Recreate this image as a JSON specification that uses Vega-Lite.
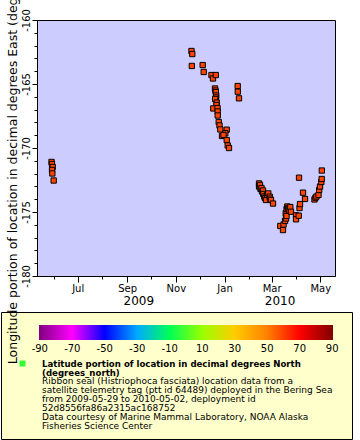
{
  "$schema": "https://vega.github.io/schema/vega-lite/v6.json",
  "width": 298,
  "height": 256,
  "autosize": {"type": "none"},
  "padding": {"left": 37, "top": 20, "right": 25, "bottom": 164},
  "background": "white",
  "config": {
    "font": "DejaVu Sans",
    "view": {"fill": "#ccccff", "stroke": "black", "strokeWidth": 1},
    "axis": {"labelFont": "DejaVu Sans", "titleFont": "DejaVu Sans", "labelColor": "black", "titleColor": "black", "domainColor": "black", "tickColor": "black", "grid": false, "labelFontSize": 10},
    "legend": {"labelFont": "DejaVu Sans", "titleFont": "DejaVu Sans"}
  },
  "title": {
    "text": ["Latitude portion of location in decimal degrees North", "(degrees_north)"],
    "subtitle": ["Ribbon seal (Histriophoca fasciata) location data from a", "satellite telemetry tag (ptt id 64489) deployed in the Bering Sea", "from 2009-05-29 to 2010-05-02, deployment id", "52d8556fa86a2315ac168752", "Data courtesy of Marine Mammal Laboratory, NOAA Alaska", "Fisheries Science Center"],
    "orient": "bottom",
    "anchor": "start",
    "frame": "group",
    "dx": 5,
    "offset": -80,
    "font": "DejaVu Sans",
    "fontSize": 8.6,
    "fontWeight": "bold",
    "lineHeight": 9,
    "color": "black",
    "subtitleFont": "DejaVu Sans",
    "subtitleFontSize": 9,
    "subtitleFontWeight": "normal",
    "subtitleLineHeight": 9,
    "subtitleColor": "black",
    "subtitlePadding": 0,
    "zindex": 1
  },
  "data": {
    "values": [
      {"t": "2009-05-29T05:00:00Z", "lon": -171.09, "lat": 59.2},
      {"t": "2009-05-29T18:00:00Z", "lon": -171.25, "lat": 59.2},
      {"t": "2009-05-30T16:00:00Z", "lon": -171.48, "lat": 59.3},
      {"t": "2009-05-29T20:00:00Z", "lon": -171.72, "lat": 59.3},
      {"t": "2009-05-30T05:00:00Z", "lon": -171.99, "lat": 59.3},
      {"t": "2009-05-31T22:00:00Z", "lon": -172.54, "lat": 59.4},
      {"t": "2009-11-20T14:00:00Z", "lon": -162.42, "lat": 59.5},
      {"t": "2009-11-21T14:00:00Z", "lon": -162.66, "lat": 59.5},
      {"t": "2009-11-21T00:00:00Z", "lon": -163.59, "lat": 59.4},
      {"t": "2009-12-04T15:00:00Z", "lon": -163.52, "lat": 59.4},
      {"t": "2009-12-05T22:00:00Z", "lon": -164.06, "lat": 59.3},
      {"t": "2009-12-15T16:00:00Z", "lon": -164.30, "lat": 59.3},
      {"t": "2009-12-17T13:00:00Z", "lon": -164.57, "lat": 59.3},
      {"t": "2009-12-21T01:00:00Z", "lon": -164.30, "lat": 59.3},
      {"t": "2009-12-20T01:00:00Z", "lon": -165.35, "lat": 59.2},
      {"t": "2009-12-20T15:00:00Z", "lon": -165.51, "lat": 59.2},
      {"t": "2009-12-21T03:00:00Z", "lon": -165.63, "lat": 59.2},
      {"t": "2009-12-21T12:00:00Z", "lon": -165.90, "lat": 59.2},
      {"t": "2009-12-21T07:00:00Z", "lon": -166.05, "lat": 59.2},
      {"t": "2009-12-20T06:00:00Z", "lon": -166.17, "lat": 59.2},
      {"t": "2009-12-22T05:00:00Z", "lon": -166.45, "lat": 59.2},
      {"t": "2009-12-21T23:00:00Z", "lon": -166.64, "lat": 59.2},
      {"t": "2009-12-17T22:00:00Z", "lon": -166.91, "lat": 59.2},
      {"t": "2009-12-23T05:00:00Z", "lon": -166.88, "lat": 59.2},
      {"t": "2009-12-23T10:00:00Z", "lon": -167.15, "lat": 59.1},
      {"t": "2009-12-23T11:00:00Z", "lon": -167.46, "lat": 59.1},
      {"t": "2009-12-24T17:00:00Z", "lon": -167.97, "lat": 59.1},
      {"t": "2009-12-25T17:00:00Z", "lon": -168.24, "lat": 59.1},
      {"t": "2009-12-26T17:00:00Z", "lon": -168.55, "lat": 59.1},
      {"t": "2009-12-28T20:00:00Z", "lon": -169.06, "lat": 59.0},
      {"t": "2010-01-03T17:00:00Z", "lon": -168.57, "lat": 59.0},
      {"t": "2010-01-01T23:00:00Z", "lon": -168.85, "lat": 59.0},
      {"t": "2009-12-30T17:00:00Z", "lon": -168.98, "lat": 59.0},
      {"t": "2010-01-03T18:00:00Z", "lon": -169.38, "lat": 59.0},
      {"t": "2010-01-04T23:00:00Z", "lon": -169.80, "lat": 59.0},
      {"t": "2010-01-06T14:00:00Z", "lon": -170.00, "lat": 59.0},
      {"t": "2010-01-17T12:00:00Z", "lon": -165.16, "lat": 59.3},
      {"t": "2010-01-17T14:00:00Z", "lon": -165.60, "lat": 59.3},
      {"t": "2010-01-19T03:00:00Z", "lon": -166.12, "lat": 59.3},
      {"t": "2010-02-13T05:00:00Z", "lon": -172.77, "lat": 59.1},
      {"t": "2010-02-13T06:00:00Z", "lon": -173.01, "lat": 59.1},
      {"t": "2010-02-14T11:00:00Z", "lon": -172.89, "lat": 59.1},
      {"t": "2010-02-15T02:00:00Z", "lon": -173.20, "lat": 59.1},
      {"t": "2010-02-16T08:00:00Z", "lon": -173.13, "lat": 59.1},
      {"t": "2010-02-16T23:00:00Z", "lon": -173.40, "lat": 59.1},
      {"t": "2010-02-18T05:00:00Z", "lon": -173.32, "lat": 59.1},
      {"t": "2010-02-18T14:00:00Z", "lon": -173.59, "lat": 59.1},
      {"t": "2010-02-19T20:00:00Z", "lon": -173.79, "lat": 59.1},
      {"t": "2010-02-20T17:00:00Z", "lon": -173.91, "lat": 59.1},
      {"t": "2010-02-21T23:00:00Z", "lon": -174.06, "lat": 59.1},
      {"t": "2010-02-23T05:00:00Z", "lon": -173.67, "lat": 59.1},
      {"t": "2010-02-24T20:00:00Z", "lon": -173.55, "lat": 59.1},
      {"t": "2010-02-26T14:00:00Z", "lon": -173.80, "lat": 59.1},
      {"t": "2010-02-26T23:00:00Z", "lon": -173.95, "lat": 59.1},
      {"t": "2010-02-28T05:00:00Z", "lon": -174.06, "lat": 59.1},
      {"t": "2010-03-02T18:00:00Z", "lon": -174.34, "lat": 59.0},
      {"t": "2010-03-11T21:00:00Z", "lon": -176.09, "lat": 59.0},
      {"t": "2010-03-15T06:00:00Z", "lon": -176.41, "lat": 59.0},
      {"t": "2010-03-15T22:00:00Z", "lon": -175.98, "lat": 59.0},
      {"t": "2010-03-17T19:00:00Z", "lon": -175.70, "lat": 59.0},
      {"t": "2010-03-18T16:00:00Z", "lon": -175.10, "lat": 59.0},
      {"t": "2010-03-19T01:00:00Z", "lon": -175.51, "lat": 59.0},
      {"t": "2010-03-19T16:00:00Z", "lon": -175.31, "lat": 59.0},
      {"t": "2010-03-19T18:00:00Z", "lon": -174.77, "lat": 59.0},
      {"t": "2010-03-20T16:00:00Z", "lon": -174.57, "lat": 59.0},
      {"t": "2010-03-21T12:00:00Z", "lon": -174.69, "lat": 59.0},
      {"t": "2010-03-22T04:00:00Z", "lon": -174.80, "lat": 59.0},
      {"t": "2010-03-23T10:00:00Z", "lon": -174.88, "lat": 59.0},
      {"t": "2010-03-24T10:00:00Z", "lon": -174.61, "lat": 59.0},
      {"t": "2010-03-25T07:00:00Z", "lon": -174.98, "lat": 59.0},
      {"t": "2010-03-31T13:00:00Z", "lon": -175.26, "lat": 59.1},
      {"t": "2010-03-31T14:00:00Z", "lon": -175.57, "lat": 59.1},
      {"t": "2010-04-03T23:00:00Z", "lon": -175.29, "lat": 59.1},
      {"t": "2010-04-04T23:00:00Z", "lon": -174.69, "lat": 59.1},
      {"t": "2010-04-05T14:00:00Z", "lon": -174.38, "lat": 59.1},
      {"t": "2010-04-04T08:00:00Z", "lon": -172.32, "lat": 59.2},
      {"t": "2010-04-09T08:00:00Z", "lon": -173.49, "lat": 59.2},
      {"t": "2010-04-11T20:00:00Z", "lon": -173.98, "lat": 59.2},
      {"t": "2010-04-23T17:00:00Z", "lon": -174.02, "lat": 59.3},
      {"t": "2010-04-25T00:00:00Z", "lon": -173.88, "lat": 59.3},
      {"t": "2010-04-26T05:00:00Z", "lon": -173.79, "lat": 59.3},
      {"t": "2010-04-28T18:00:00Z", "lon": -173.67, "lat": 59.3},
      {"t": "2010-04-29T15:00:00Z", "lon": -173.28, "lat": 59.3},
      {"t": "2010-04-30T15:00:00Z", "lon": -173.01, "lat": 59.3},
      {"t": "2010-05-02T06:00:00Z", "lon": -172.66, "lat": 59.3},
      {"t": "2010-05-02T18:00:00Z", "lon": -172.42, "lat": 59.3},
      {"t": "2010-05-02T22:00:00Z", "lon": -171.76, "lat": 59.3}
    ]
  },
  "layer": [
    {
      "mark": {"type": "square", "size": 28, "filled": true, "stroke": "black", "strokeWidth": 1, "opacity": 1},
      "encoding": {
        "x": {
          "field": "t", "type": "temporal",
          "scale": {"type": "utc", "domain": [{"year": 2009, "month": 5, "date": 11, "utc": true}, {"year": 2010, "month": 5, "date": 19, "hours": 10, "utc": true}], "nice": false},
          "axis": {
            "title": null, "orient": "bottom",
            "values": [
              {"year": 2009, "month": 6, "date": 1, "utc": true},
              {"year": 2009, "month": 7, "date": 1, "utc": true},
              {"year": 2009, "month": 8, "date": 1, "utc": true},
              {"year": 2009, "month": 9, "date": 1, "utc": true},
              {"year": 2009, "month": 10, "date": 1, "utc": true},
              {"year": 2009, "month": 11, "date": 1, "utc": true},
              {"year": 2009, "month": 12, "date": 1, "utc": true},
              {"year": 2010, "month": 1, "date": 1, "utc": true},
              {"year": 2010, "month": 2, "date": 1, "utc": true},
              {"year": 2010, "month": 3, "date": 1, "utc": true},
              {"year": 2010, "month": 4, "date": 1, "utc": true},
              {"year": 2010, "month": 5, "date": 1, "utc": true}
            ],
            "labelExpr": "utcmonth(datum.value) % 2 == 0 ? utcFormat(datum.value, '%b') : ''",
            "tickSize": {"condition": {"test": "utcmonth(datum.value) % 2 == 0", "value": 6}, "value": 3},
            "labelPadding": 1, "labelFontSize": 10, "labelOverlap": false, "labelFlush": false, "zindex": 1
          }
        },
        "y": {
          "field": "lon", "type": "quantitative",
          "scale": {"domain": [-180, -160], "nice": false, "zero": false},
          "axis": {
            "title": "Longitude portion of location in decimal degrees East (degrees_east)",
            "titleFontSize": 12.5, "titleFontWeight": "normal", "titlePadding": 2,
            "values": [-180, -179, -178, -177, -176, -175, -174, -173, -172, -171, -170, -169, -168, -167, -166, -165, -164, -163, -162, -161, -160],
            "labelExpr": "datum.value % 5 == 0 ? '' + datum.value : ''",
            "tickSize": {"condition": {"test": "datum.value % 5 == 0", "value": 5}, "value": 3},
            "labelAngle": 270, "labelAlign": "center", "labelBaseline": "bottom",
            "labelPadding": 1, "labelFontSize": 10, "labelOverlap": false, "labelFlush": false, "zindex": 1
          }
        },
        "fill": {
          "field": "lat", "type": "quantitative",
          "scale": {
            "type": "linear",
            "domain": [-90.5, -70, -50, -30, -10, 10, 30, 50, 70, 90.5],
            "range": ["#800080", "#ff00ff", "#0000ff", "#00aaff", "#00ff55", "#99ff00", "#ffcc00", "#ff8000", "#ff0000", "#800000"],
            "interpolate": "rgb",
            "nice": false,
            "zero": false
          },
          "legend": {
            "orient": "none", "legendX": -36, "legendY": 292,
            "direction": "horizontal", "type": "gradient",
            "gradientLength": 294, "gradientThickness": 15, "gradientStrokeWidth": 0,
            "values": [-90, -70, -50, -30, -10, 10, 30, 50, 70, 90],
            "labelExpr": "datum.value >= 90 ? '\u200290\u2002' : '' + datum.value",
            "labelAlign": "center",
            "labelFontSize": 10, "labelColor": "black", "labelOffset": 4, "labelOverlap": false,
            "title": [" ", " "], "titleOrient": "left", "titleAnchor": "start", "titleFontSize": 1, "titleLineHeight": 100, "titlePadding": 25,
            "fillColor": "#ffffcc", "strokeColor": "black", "padding": 13, "zindex": 0
          }
        }
      }
    },
    {
      "mark": {"type": "point", "shape": "square", "filled": true, "color": "#33ff33", "stroke": "black", "strokeWidth": 1, "opacity": 0},
      "encoding": {
        "x": {
          "field": "t", "type": "temporal",
          "axis": {
            "title": null, "orient": "bottom",
            "values": [{"year": 2009, "month": 9, "date": 15, "utc": true}, {"year": 2010, "month": 3, "date": 11, "utc": true}],
            "labelExpr": "utcFormat(datum.value, '%Y')",
            "ticks": false, "tickSize": 0, "domain": false,
            "labelFontSize": 12, "labelPadding": 19, "labelOverlap": false, "labelFlush": false
          }
        },
        "shape": {
          "datum": "marker",
          "scale": {"range": ["square"]},
          "legend": {
            "orient": "none", "legendX": -18, "legendY": 340,
            "title": null, "labelExpr": "''", "labelFontSize": 1,
            "symbolType": "square", "symbolSize": 36, "symbolFillColor": "#33ff33", "symbolStrokeColor": "black", "symbolStrokeWidth": 1, "symbolOpacity": 1,
            "padding": 0, "zindex": 2
          }
        }
      }
    }
  ],
  "resolve": {"axis": {"x": "independent"}}
}
